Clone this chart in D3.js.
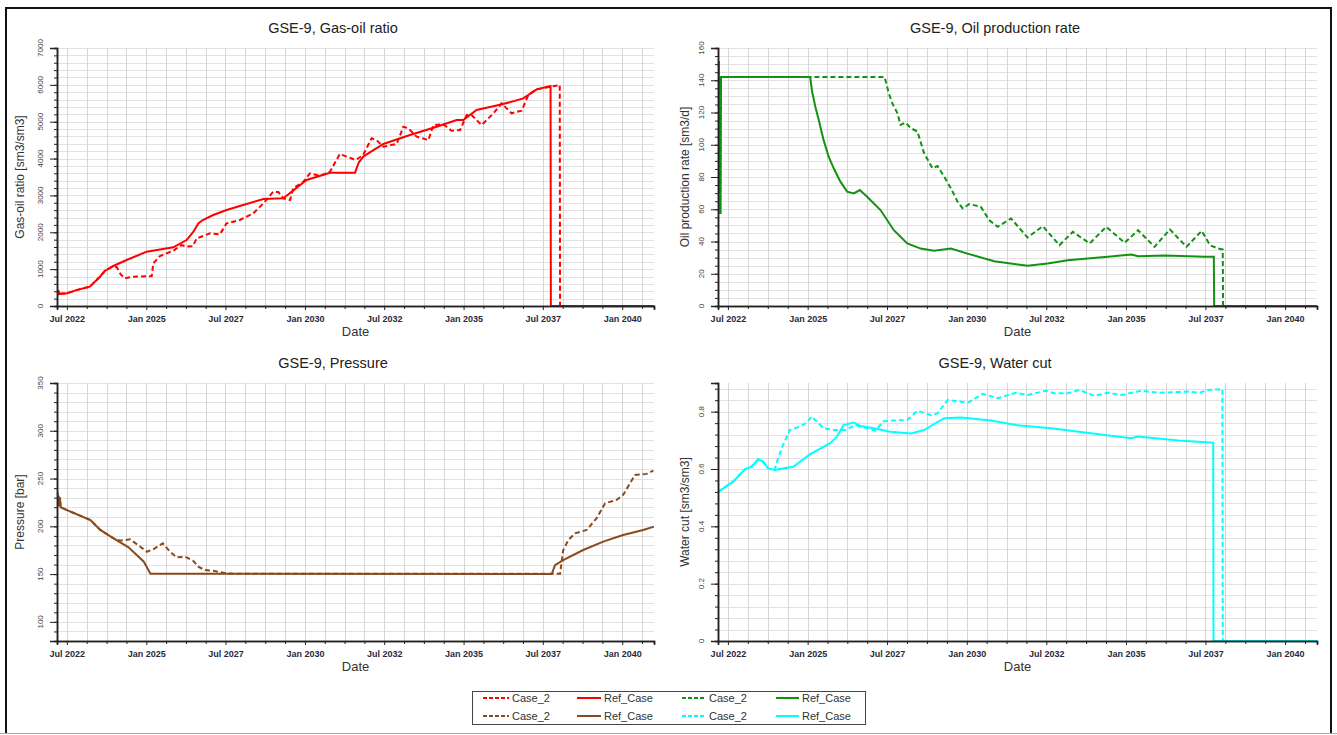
<!DOCTYPE html>
<html><head><meta charset="utf-8">
<script src="https://cdn.jsdelivr.net/npm/d3@7"></script>
<style>
body{margin:0;background:#fff;}
svg{display:block;font-family:Arial,"Liberation Sans",sans-serif;}
</style>
</head><body>
<svg id="chart" width="1337" height="735"></svg>
<script>
// ---------- DATA (decimal year, value) ----------
const majorTickDates = ["2022-07-01","2025-01-01","2027-07-01","2030-01-01","2032-07-01","2035-01-01","2037-07-01","2040-01-01"];
const seriesNames = ["Case_2","Ref_Case"];
const panelTitles = ["GSE-9, Gas-oil ratio","GSE-9, Oil production rate","GSE-9, Pressure","GSE-9, Water cut"];
const yAxisTitles = ["Gas-oil ratio [sm3/sm3]","Oil production rate [sm3/d]","Pressure [bar]","Water cut [sm3/sm3]"];

const gorRef = [[2022.19,400],[2022.21,330],[2022.24,390],[2022.27,330],[2022.5,345],[2022.8,430],[2023.22,525],[2023.54,795],[2023.7,958],[2023.96,1085],[2024.38,1248],[2025.01,1474],[2025.85,1592],[2026.27,1790],[2026.48,2010],[2026.64,2242],[2026.78,2333],[2027.11,2469],[2027.53,2604],[2028.16,2767],[2028.69,2903],[2029.32,2921],[2030.05,3418],[2030.79,3617],[2031.58,3617],[2031.7,3900],[2031.85,4060],[2032.47,4395],[2033.31,4639],[2034.15,4864],[2034.78,5046],[2034.99,5046],[2035.41,5317],[2036.25,5480],[2036.88,5634],[2037.3,5878],[2037.74,5968],[2037.75,0],[2041.0,0]];
const gorCase2 = [[2022.19,400],[2022.21,330],[2022.24,390],[2022.27,330],[2022.5,345],[2022.8,430],[2023.22,525],[2023.54,795],[2023.7,958],[2023.96,1085],[2024.07,1050],[2024.2,850],[2024.33,750],[2024.59,795],[2025.17,810],[2025.22,1158],[2025.43,1357],[2025.85,1500],[2026.11,1655],[2026.27,1610],[2026.46,1620],[2026.59,1836],[2027.01,1972],[2027.32,1945],[2027.53,2243],[2027.95,2333],[2028.37,2514],[2028.69,2785],[2029.0,3101],[2029.16,3092],[2029.32,2921],[2029.53,2876],[2029.63,3193],[2029.95,3372],[2030.16,3600],[2030.47,3530],[2030.79,3646],[2031.1,4124],[2031.6,3961],[2031.83,4090],[2032.1,4549],[2032.26,4500],[2032.47,4322],[2032.89,4395],[2033.1,4864],[2033.26,4820],[2033.52,4593],[2033.89,4503],[2034.05,4910],[2034.36,4930],[2034.62,4757],[2034.89,4775],[2035.1,5182],[2035.25,5182],[2035.57,4910],[2035.94,5228],[2036.2,5499],[2036.51,5228],[2036.83,5300],[2037.04,5725],[2037.3,5878],[2037.62,5930],[2038.03,5996],[2038.04,0],[2041.0,0]];

const oilRef = [[2022.2,142],[2022.21,152],[2022.22,70],[2022.25,142],[2022.26,57],[2022.28,142],[2025.08,142],[2025.14,133],[2025.24,123.7],[2025.35,115.4],[2025.5,103],[2025.66,92.6],[2025.82,85.4],[2026.03,77.1],[2026.24,70.9],[2026.45,69.8],[2026.64,71.9],[2026.87,67.8],[2027.29,59.5],[2027.71,47],[2028.13,38.8],[2028.55,35.6],[2028.97,34.2],[2029.5,35.6],[2030.02,32.5],[2030.86,27.8],[2031.91,24.9],[2032.54,26.3],[2033.17,28.4],[2034.43,30.5],[2035.17,31.9],[2035.38,30.9],[2036.22,31.3],[2037.48,30.5],[2037.76,30.5],[2037.77,0],[2041.0,0]];
const oilCase2 = [[2022.2,142],[2022.21,152],[2022.22,70],[2022.25,142],[2022.26,57],[2022.28,142],[2027.42,142],[2027.55,132],[2027.66,125.8],[2027.82,119.6],[2027.92,112.3],[2028.08,113.8],[2028.24,110.3],[2028.45,108.2],[2028.66,94.7],[2028.92,85.4],[2029.08,86.8],[2029.29,80.2],[2029.5,73],[2029.71,64.7],[2029.87,60.5],[2030.08,63.2],[2030.44,61.6],[2030.7,53.3],[2030.97,49.1],[2031.39,54.3],[2031.91,42.5],[2032.39,49.5],[2032.91,37.7],[2033.33,46],[2033.86,38.8],[2034.38,49.1],[2034.96,39.2],[2035.38,47],[2035.9,36.7],[2036.38,47.5],[2036.9,36.7],[2037.38,46.6],[2037.64,37.7],[2037.9,35.6],[2038.04,35],[2038.05,0],[2041.0,0]];

const presRef = [[2022.19,224],[2022.2,235],[2022.21,222],[2022.23,232],[2022.26,221],[2022.28,230],[2022.3,220],[2022.5,217],[2023.24,206.6],[2023.55,196.2],[2023.97,187.4],[2024.44,178],[2024.92,163],[2025.13,150.5],[2027.5,150.3],[2037.78,150],[2037.88,159.4],[2038.14,164.7],[2038.77,175.2],[2039.4,184],[2040.03,191],[2040.66,196.2],[2041.0,199.7]];
const presCase2 = [[2022.19,224],[2022.2,235],[2022.21,222],[2022.23,232],[2022.26,221],[2022.28,230],[2022.3,220],[2022.5,217],[2023.24,206.6],[2023.55,196.2],[2023.97,187.4],[2024.18,185],[2024.49,186.4],[2024.81,178.7],[2025.02,173.4],[2025.22,176],[2025.52,182.2],[2025.75,173.4],[2025.96,167.5],[2026.22,168.2],[2026.48,164],[2026.64,157.7],[2026.85,154.2],[2027.11,153.5],[2027.53,150.7],[2027.95,150.3],[2038.04,150.3],[2038.14,175],[2038.3,185.7],[2038.51,192.7],[2038.88,196.2],[2039.19,208.4],[2039.46,224.1],[2039.82,227.6],[2040.03,232.9],[2040.4,253.8],[2040.77,254.9],[2040.98,258.4]];

const wcRef = [[2022.2,0.521],[2022.66,0.556],[2023.03,0.599],[2023.24,0.608],[2023.45,0.634],[2023.6,0.626],[2023.76,0.602],[2023.97,0.597],[2024.55,0.608],[2025.08,0.652],[2025.71,0.69],[2025.92,0.713],[2026.13,0.753],[2026.45,0.762],[2026.66,0.75],[2027.08,0.742],[2027.6,0.73],[2028.24,0.724],[2028.66,0.736],[2028.97,0.757],[2029.29,0.777],[2029.82,0.78],[2030.76,0.769],[2031.6,0.753],[2032.65,0.742],[2034.33,0.719],[2035.17,0.707],[2035.38,0.713],[2036.64,0.699],[2037.74,0.692],[2037.75,0],[2041.0,0]];
const wcCase2 = [[2022.2,0.521],[2022.66,0.556],[2023.03,0.599],[2023.24,0.608],[2023.45,0.634],[2023.6,0.626],[2023.76,0.602],[2023.97,0.597],[2024.02,0.62],[2024.23,0.684],[2024.44,0.736],[2024.76,0.748],[2024.97,0.762],[2025.13,0.783],[2025.5,0.742],[2025.82,0.736],[2026.19,0.736],[2026.5,0.753],[2026.87,0.742],[2027.13,0.734],[2027.39,0.767],[2027.71,0.769],[2028.13,0.771],[2028.45,0.803],[2028.87,0.788],[2029.08,0.794],[2029.4,0.841],[2030.03,0.831],[2030.5,0.862],[2030.97,0.847],[2031.55,0.866],[2031.91,0.858],[2032.49,0.873],[2032.75,0.864],[2033.17,0.864],[2033.54,0.876],[2034.01,0.855],[2034.43,0.866],[2034.85,0.858],[2035.48,0.873],[2036.01,0.866],[2036.95,0.87],[2037.32,0.866],[2037.58,0.876],[2038.03,0.878],[2038.04,0],[2041.0,0]];

const yDomains = [[0,7000],[0,160],[80,350],[0,0.9]];
const yMajorSteps = [1000,20,50,0.2];
const yMinorSteps = [200,5,10,0.04];
const yMajorStart = [0,0,100,0];
const colors = ["#ff0000","#119311","#8b4a1e","#00ffff"];
const dateDomain = [2022.185, 2041.0];

// ---------- HELPERS ----------
function yd(y){ const Y=Math.floor(y); const a=Date.UTC(Y,0,1), b=Date.UTC(Y+1,0,1); return new Date(a+(y-Y)*(b-a)); }
const fmt = d3.utcFormat("%b %Y");
const svg = d3.select("#chart");
svg.append("rect").attr("width",1337).attr("height",735).attr("fill","#fff");

// frame
svg.append("line").attr("x1",6).attr("x2",1331).attr("y1",8).attr("y2",8).attr("stroke","#111").attr("stroke-width",2);
svg.append("line").attr("x1",6).attr("x2",6).attr("y1",7).attr("y2",734).attr("stroke","#111").attr("stroke-width",2);
svg.append("line").attr("x1",1331).attr("x2",1331).attr("y1",7).attr("y2",734).attr("stroke","#111").attr("stroke-width",2);
svg.append("line").attr("x1",0).attr("x2",1337).attr("y1",733.5).attr("y2",733.5).attr("stroke","#aaa").attr("stroke-width",1);

const boxes = [[57,48,654,306],[718,48,1317,306],[57,383,654,641],[718,383,1317,641]];
const titleCenters = [333,995,333,995];
const yTitleOffsets = [37,33,37,33];
const seriesData = [[gorCase2,gorRef],[oilCase2,oilRef],[presCase2,presRef],[wcCase2,wcRef]];

const majorDates = majorTickDates.map(s=>new Date(s+"T00:00:00Z"));
let minorDates = [];
for(let i=0;i<majorDates.length-1;i++){
  const a=+majorDates[i], b=+majorDates[i+1];
  for(let k=1;k<4;k++) minorDates.push(new Date(a+(b-a)*k/4));
}
{ const a=+majorDates[majorDates.length-2], b=+majorDates[majorDates.length-1]; minorDates.push(new Date(b+(b-a)/4)); }
const allXGrid = majorDates.concat(minorDates);

function rng(start, stop, step){ const out=[]; for(let v=start; v<=stop+step*1e-6; v+=step) out.push(Math.round(v*1e6)/1e6); return out; }

boxes.forEach((bx,i)=>{
  const [L,T,R,B] = bx;
  const x = d3.scaleUtc().domain(dateDomain.map(yd)).range([L,R]);
  const y = d3.scaleLinear().domain(yDomains[i]).range([B,T]);
  const g = svg.append("g");
  const minorY = rng(yDomains[i][0], yDomains[i][1], yMinorSteps[i]);
  const majorY = rng(yMajorStart[i], yDomains[i][1], yMajorSteps[i]);

  // grid
  g.selectAll(".hg").data(minorY).join("line")
    .attr("x1",L).attr("x2",R).attr("y1",d=>Math.round(y(d))+0.5).attr("y2",d=>Math.round(y(d))+0.5)
    .attr("stroke","#e2e2e2").attr("stroke-width",1);
  g.selectAll(".vg").data(allXGrid.filter(d=>x(d)<=R)).join("line")
    .attr("y1",T).attr("y2",B).attr("x1",d=>Math.round(x(d))+0.5).attr("x2",d=>Math.round(x(d))+0.5)
    .attr("stroke","#d6d6d6").attr("stroke-width",1);

  // series
  const line = d3.line().x(d=>x(yd(d[0]))).y(d=>y(d[1]));
  const clipId = "clip"+i;
  svg.append("clipPath").attr("id",clipId).append("rect").attr("x",L).attr("y",T-3).attr("width",R-L+1).attr("height",B-T+4);
  const sg = g.append("g").attr("clip-path",`url(#${clipId})`);
  sg.append("path").datum(seriesData[i][0]).attr("d",line).attr("fill","none")
    .attr("stroke",colors[i]).attr("stroke-width",2).attr("stroke-dasharray","5,3");
  sg.append("path").datum(seriesData[i][1]).attr("d",line).attr("fill","none")
    .attr("stroke",colors[i]).attr("stroke-width",2);

  // y axis
  const yAxis = d3.axisLeft(y).tickValues(majorY).tickSize(7).tickFormat("");
  g.append("g").attr("transform",`translate(${L},0)`).call(yAxis);
  const yAxisMinor = d3.axisLeft(y).tickValues(minorY).tickSize(3).tickFormat("");
  g.append("g").attr("transform",`translate(${L},0)`).call(yAxisMinor);
  g.selectAll(".ylab").data(majorY).join("text")
    .attr("transform",d=>`translate(${L-17},${y(d)}) rotate(-90)`)
    .attr("text-anchor","middle").attr("dominant-baseline","central")
    .attr("font-size","8px").attr("fill","#444").text(d=>d3.format("~g")(d));

  // x axis
  const xAxis = d3.axisBottom(x).tickValues(majorDates).tickSize(4).tickFormat(fmt);
  const xa = g.append("g").attr("transform",`translate(0,${B})`).call(xAxis);
  xa.selectAll("text").attr("font-size","9px").attr("font-weight","bold").attr("fill","#2a2a3a").attr("dy","0.95em");
  const xAxisMinor = d3.axisBottom(x).tickValues(minorDates.filter(d=>x(d)<=R)).tickSize(3).tickFormat("");
  g.append("g").attr("transform",`translate(0,${B})`).call(xAxisMinor);
  g.selectAll(".domain").attr("stroke","#222").attr("stroke-width",1.5);
  g.selectAll(".tick line").attr("stroke","#222");

  // titles
  svg.append("text").attr("x",titleCenters[i]).attr("y",T-15).attr("text-anchor","middle")
    .attr("font-size","14.5px").attr("fill","#222").text(panelTitles[i]);
  svg.append("text").attr("x",(L+R)/2).attr("y",B+30).attr("text-anchor","middle")
    .attr("font-size","13px").attr("fill","#333").text("Date");
  svg.append("text").attr("transform",`translate(${L-yTitleOffsets[i]},${(T+B)/2}) rotate(-90)`).attr("text-anchor","middle")
    .attr("dominant-baseline","central").attr("font-size","12px").attr("fill","#333").text(yAxisTitles[i]);
});

// legend
const lg = svg.append("g");
lg.append("rect").attr("x",472.5).attr("y",691.5).attr("width",393).attr("height",33).attr("fill","#fff").attr("stroke","#444").attr("stroke-width",1);
const legCols = [[483,509,512],[577,601,604],[682,706,709],[776,799,802]];
const legRows = [698,716];
const legItems = [
  [0,0,0,0],[0,1,0,1],[0,2,1,0],[0,3,1,1],
  [1,0,2,0],[1,1,2,1],[1,2,3,0],[1,3,3,1]
];
legItems.forEach(([r,c,ci,s])=>{
  const [x1,x2,tx] = legCols[c];
  const yy = legRows[r];
  lg.append("line").attr("x1",x1).attr("x2",x2).attr("y1",yy).attr("y2",yy)
    .attr("stroke",colors[ci]).attr("stroke-width",2).attr("stroke-dasharray", s===0?"4,2":null);
  lg.append("text").attr("x",tx).attr("y",yy).attr("dominant-baseline","central")
    .attr("font-size","11px").attr("fill","#333").text(seriesNames[s]);
});
</script>
</body></html>
